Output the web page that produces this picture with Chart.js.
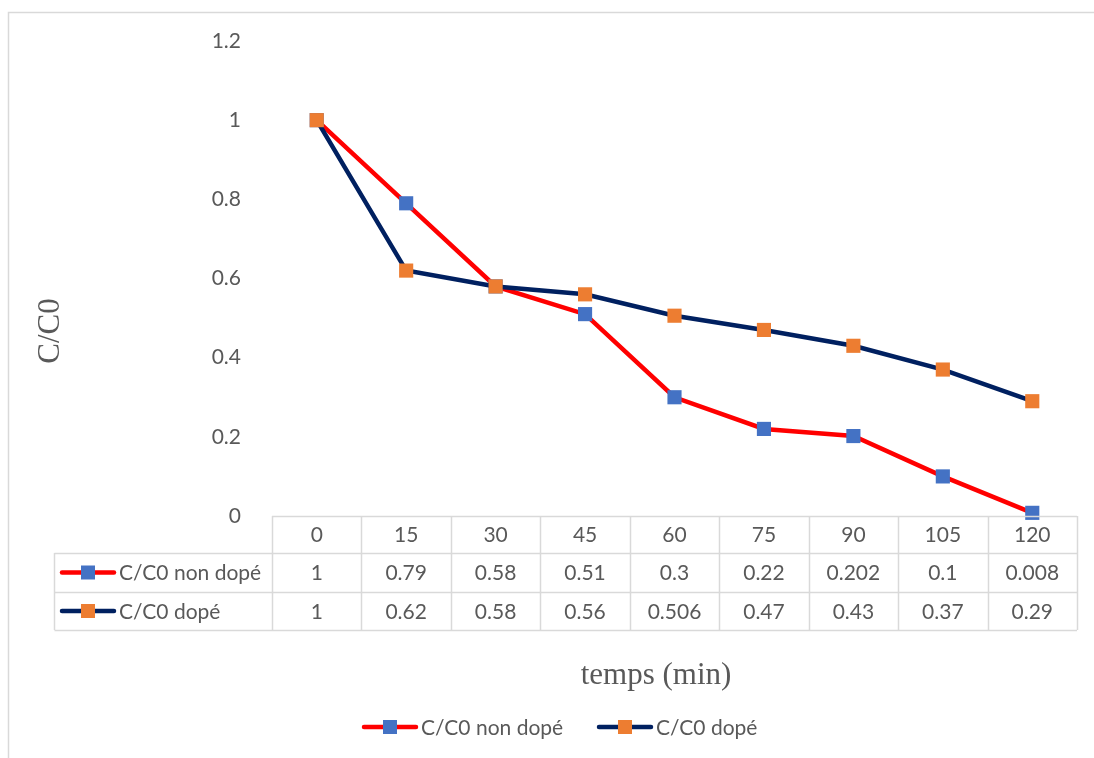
<!DOCTYPE html>
<html>
<head>
<meta charset="utf-8">
<script src="https://cdn.jsdelivr.net/npm/chart.js@4"></script>
<style>
  body { margin: 0; background: #fff; }
  canvas { display: block; }
</style>
</head>
<body>
<canvas id="graph" width="1094" height="758"></canvas>
<script>
// --- donnees ---
const temps = ["0", "15", "30", "45", "60", "75", "90", "105", "120"];
const nonDope = [1, 0.79, 0.58, 0.51, 0.3, 0.22, 0.202, 0.1, 0.008];
const dope = [1, 0.62, 0.58, 0.56, 0.506, 0.47, 0.43, 0.37, 0.29];
const nonDopeLabels = ["1", "0.79", "0.58", "0.51", "0.3", "0.22", "0.202", "0.1", "0.008"];
const dopeLabels = ["1", "0.62", "0.58", "0.56", "0.506", "0.47", "0.43", "0.37", "0.29"];
const yTicks = [0, 0.2, 0.4, 0.6, 0.8, 1, 1.2];
const yTickLabels = ["0", "0.2", "0.4", "0.6", "0.8", "1", "1.2"];

const grisTexte = "#595959";
const grisLigne = "#d9d9d9";
const policeSans = "Lato, 'Open Sans', sans-serif";
const policeSerif = "'Liberation Serif', 'DejaVu Serif', serif";
const taille = 21;

const series = [
      { nom: "C/C0 non dopé", ligne: "#ff0000", point: "#4472c4", labels: nonDopeLabels },
      { nom: "C/C0 dopé", ligne: "#002060", point: "#ed7d31", labels: dopeLabels },
];

// petite cle de legende : trait + carre
function drawKey(ctx, cx, cy, s) {
      ctx.save();
      ctx.strokeStyle = s.ligne;
      ctx.lineWidth = 4.5;
      ctx.lineCap = "round";
      ctx.beginPath();
      ctx.moveTo(cx - 26, cy);
      ctx.lineTo(cx + 26, cy);
      ctx.stroke();
      ctx.fillStyle = s.point;
      ctx.fillRect(cx - 7, cy - 7, 14, 14);
      ctx.restore();
}

// --- plugin : cadre, tableau de donnees, titres, legende ---
const tablePlugin = {
      id: "tablePlugin",
      beforeDraw(chart) {
            const ctx = chart.ctx;
            ctx.save();
            ctx.strokeStyle = grisLigne;
            ctx.lineWidth = 1.5;
            ctx.beginPath();
            ctx.moveTo(8.5, 758);
            ctx.lineTo(8.5, 12.5);
            ctx.lineTo(1094, 12.5);
            ctx.stroke();
            ctx.restore();
      },
      afterDraw(chart) {
            const ctx = chart.ctx;
            const x = chart.scales.x;
            const area = chart.chartArea;
            const half = (x.getPixelForValue(1) - x.getPixelForValue(0)) / 2;
            const gauche = x.getPixelForValue(0) - half;
            const droite = x.getPixelForValue(temps.length - 1) + half;
            const y0 = area.bottom;
            const rows = [y0, y0 + 37, y0 + 76, y0 + 114];
            const tableLeft = 54.5;

            ctx.save();
            ctx.strokeStyle = grisLigne;
            ctx.lineWidth = 1.5;
            ctx.beginPath();
            // ligne d'axe + entete
            ctx.moveTo(gauche, Math.round(rows[0]) + 0.5);
            ctx.lineTo(droite, Math.round(rows[0]) + 0.5);
            for (let r = 1; r < rows.length; r++) {
                  ctx.moveTo(tableLeft, rows[r] + 0.5);
                  ctx.lineTo(droite, rows[r] + 0.5);
            }
            for (let i = 0; i <= temps.length; i++) {
                  const px = Math.round(gauche + i * half * 2) + 0.5;
                  ctx.moveTo(px, rows[0]);
                  ctx.lineTo(px, rows[3]);
            }
            ctx.moveTo(tableLeft, rows[1]);
            ctx.lineTo(tableLeft, rows[3]);
            ctx.stroke();

            ctx.fillStyle = grisTexte;
            ctx.font = taille + "px " + policeSans;
            ctx.textAlign = "center";
            ctx.textBaseline = "middle";
            temps.forEach((t, i) => {
                  const px = x.getPixelForValue(i);
                  ctx.fillText(t, px, (rows[0] + rows[1]) / 2 + 1);
                  ctx.fillText(series[0].labels[i], px, (rows[1] + rows[2]) / 2 + 1);
                  ctx.fillText(series[1].labels[i], px, (rows[2] + rows[3]) / 2 + 1);
            });

            // libelles des lignes
            series.forEach((s, k) => {
                  const cy = (rows[k + 1] + rows[k + 2]) / 2;
                  drawKey(ctx, 88, cy, s);
                  ctx.fillStyle = grisTexte;
                  ctx.textAlign = "left";
                  ctx.fillText(s.nom, 119, cy + 1);
            });

            // titres des axes
            ctx.font = "31px " + policeSerif;
            ctx.textAlign = "center";
            ctx.fillText("temps (min)", 656, 676);
            ctx.save();
            ctx.translate(51, 331);
            ctx.rotate(-Math.PI / 2);
            ctx.fillText("C/C0", 0, 0);
            ctx.restore();

            // legende du bas
            ctx.font = taille + "px " + policeSans;
            ctx.textAlign = "left";
            const ly = 727;
            drawKey(ctx, 390, ly, series[0]);
            ctx.fillStyle = grisTexte;
            ctx.fillText(series[0].nom, 421, ly + 1);
            drawKey(ctx, 625, ly, series[1]);
            ctx.fillStyle = grisTexte;
            ctx.fillText(series[1].nom, 656, ly + 1);
            ctx.restore();
      },
};

const ctx = document.getElementById("graph");

new Chart(ctx, {
      type: "line",
      data: {
            labels: temps,
            datasets: series.map((s, k) => ({
                  label: s.nom,
                  data: k === 0 ? nonDope : dope,
                  borderColor: s.ligne,
                  borderWidth: 4.5,
                  backgroundColor: s.point,
                  pointStyle: "rect",
                  pointRadius: 10,
                  pointHoverRadius: 10,
                  pointBackgroundColor: s.point,
                  pointBorderColor: s.point,
                  pointBorderWidth: 0,
                  tension: 0,
                  clip: false,
                  order: k === 0 ? 2 : 1,
            })),
      },
      options: {
            responsive: false,
            animation: false,
            layout: {
                  padding: { top: 41, bottom: 242, left: 0, right: 17 },
            },
            plugins: {
                  legend: { display: false },
                  tooltip: { enabled: false },
            },
            scales: {
                  x: {
                        display: false,
                        offset: true,
                  },
                  y: {
                        min: 0,
                        max: 1.2,
                        afterBuildTicks: (s) => {
                              s.ticks = yTicks.map((v) => ({ value: v }));
                        },
                        afterFit: (s) => {
                              s.width = 272;
                              s.paddingTop = 0;
                              s.paddingBottom = 0;
                        },
                        grid: { display: false },
                        border: { display: false },
                        ticks: {
                              padding: 23,
                              color: grisTexte,
                              font: { family: policeSans, size: taille },
                              callback: (v, i) => yTickLabels[i],
                        },
                  },
            },
      },
      plugins: [tablePlugin],
});
</script>
</body>
</html>
